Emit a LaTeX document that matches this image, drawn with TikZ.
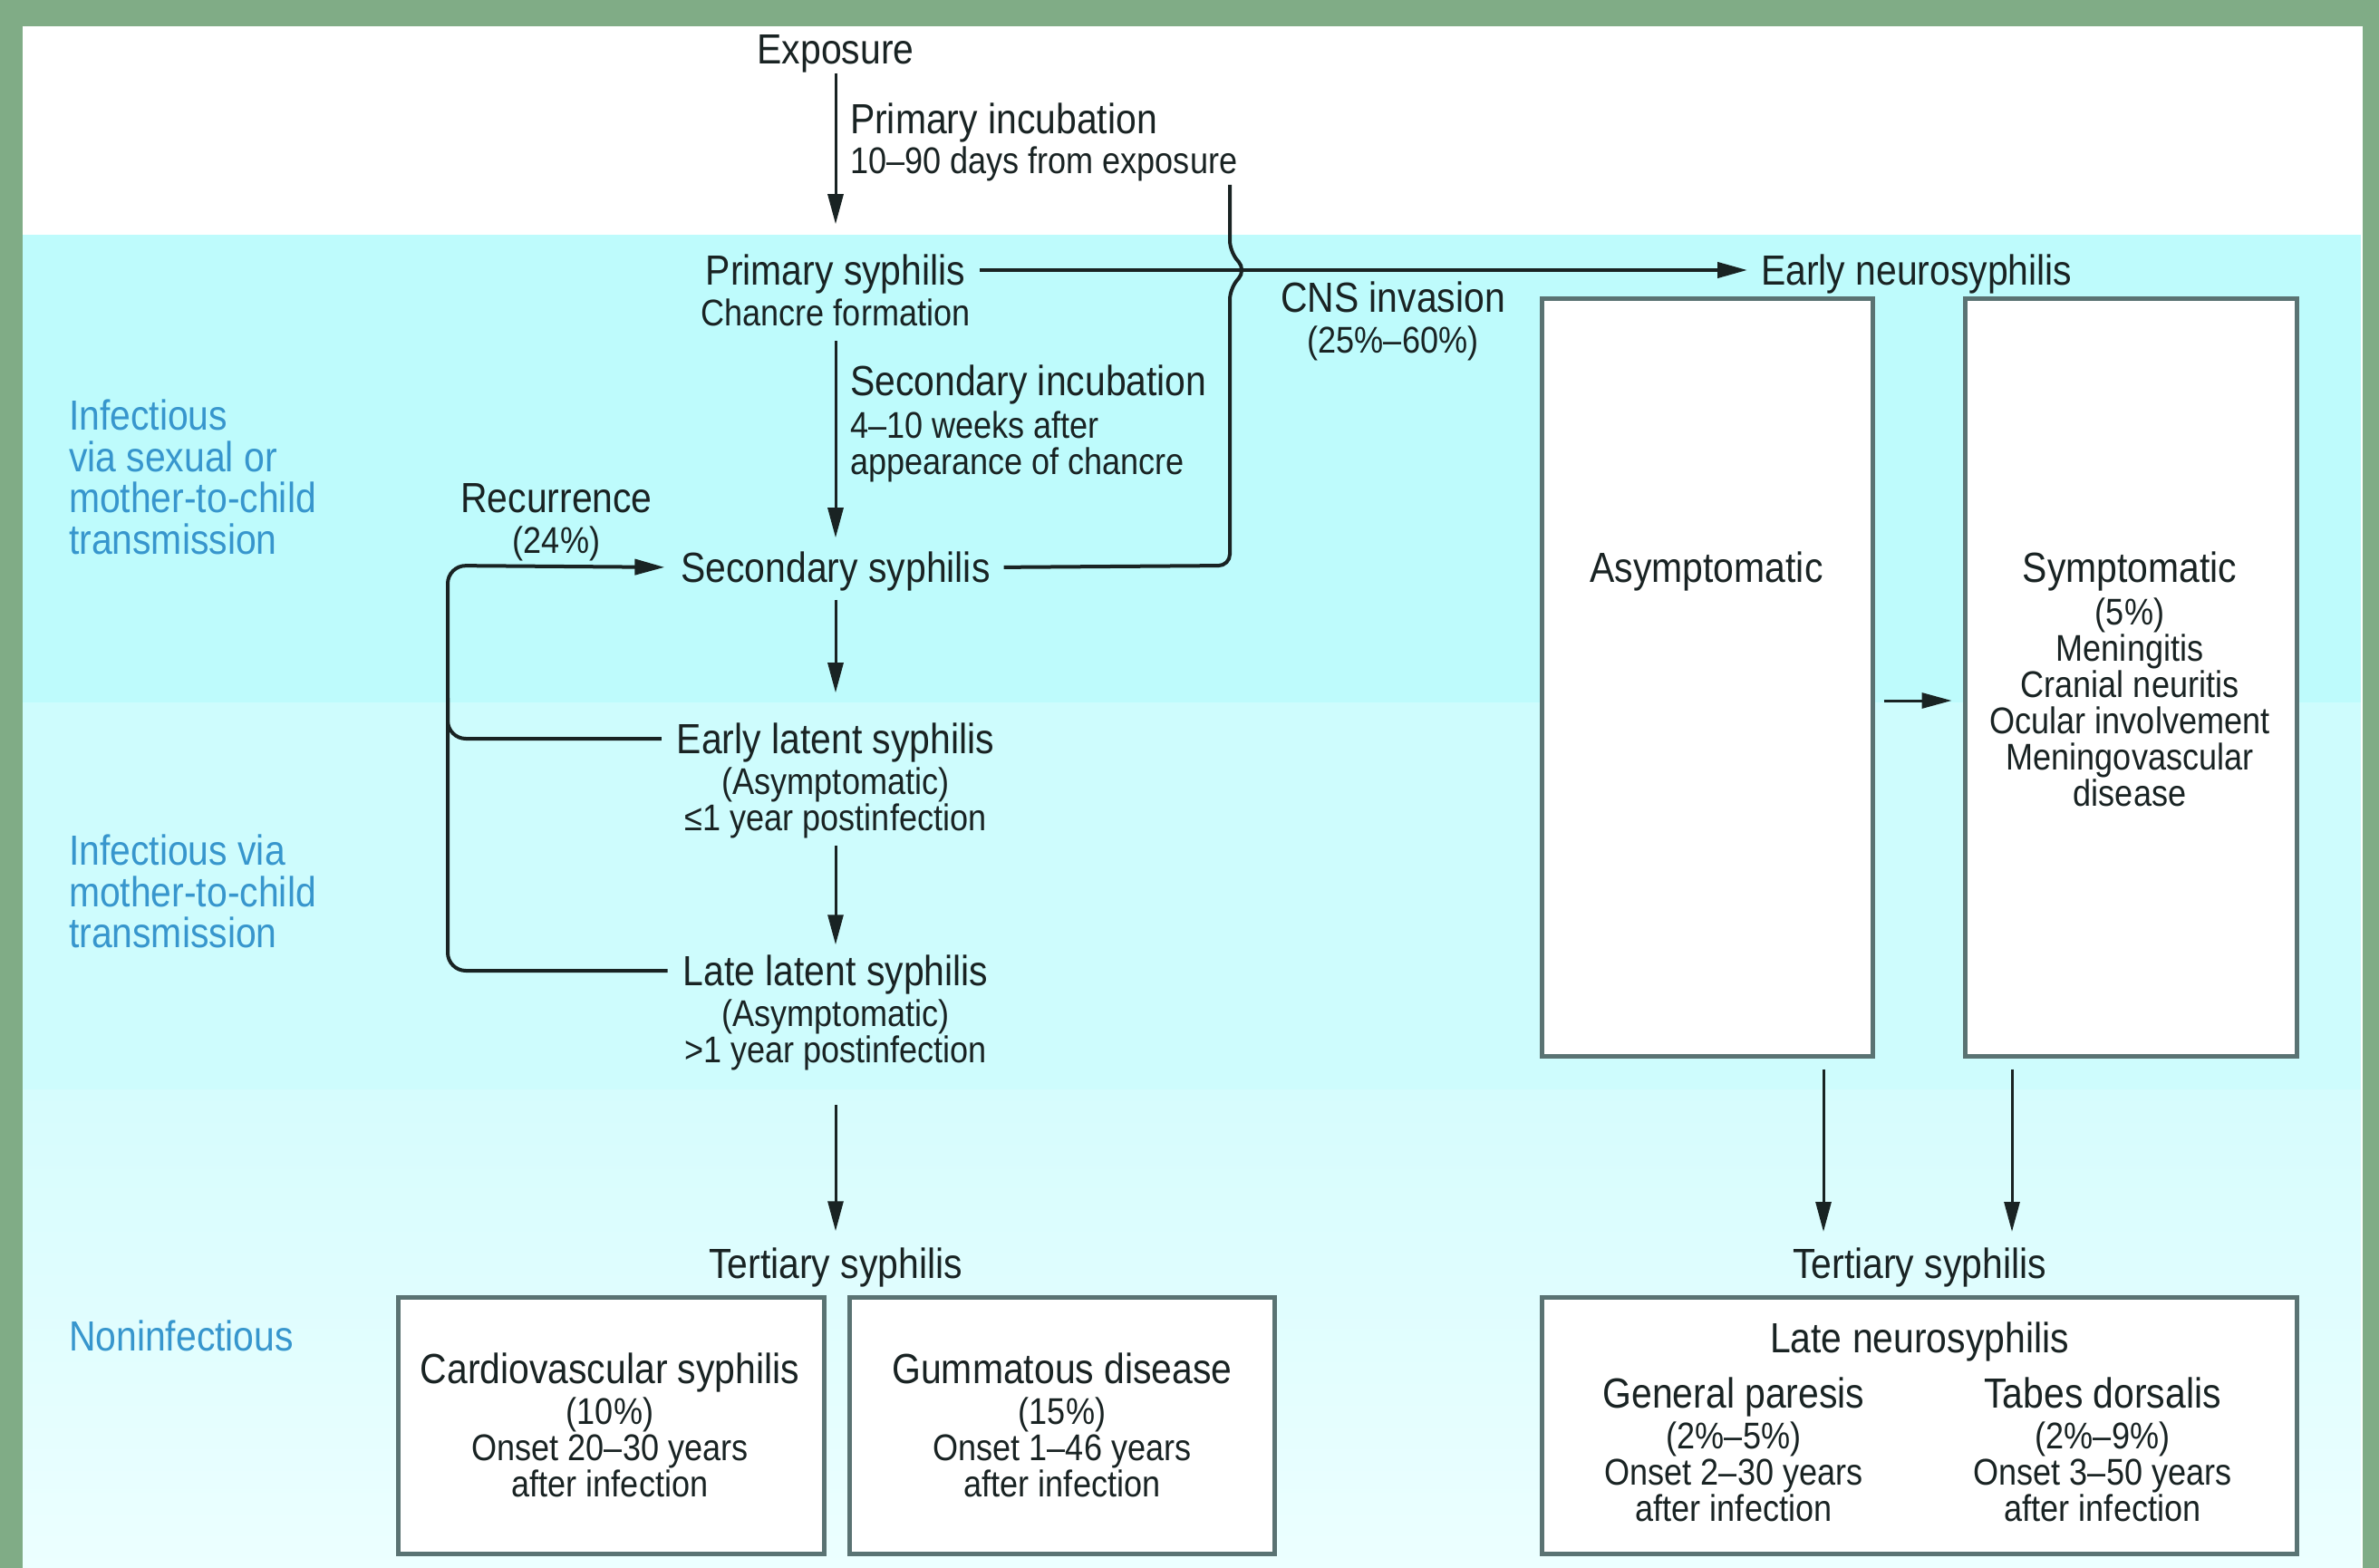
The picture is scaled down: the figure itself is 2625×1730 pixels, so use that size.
\documentclass[tikz,border=0pt]{standalone}
\usepackage{fontspec}
\setmainfont[FakeStretch=0.88]{Liberation Sans}
\usetikzlibrary{arrows.meta}

\definecolor{framegreen}{RGB}{128,172,134}
\definecolor{bandone}{RGB}{190,251,252}
\definecolor{bandtwo}{RGB}{206,252,253}
\definecolor{bandthreetop}{RGB}{214,252,253}
\definecolor{bandthreebot}{RGB}{236,255,255}
\definecolor{inktext}{RGB}{25,35,35}
\definecolor{zoneblue}{RGB}{55,150,205}
\definecolor{boxedge}{RGB}{90,115,115}

\newcommand{\bigtxt}{\fontsize{9.3}{9.4}\selectfont}
\newcommand{\smalltxt}{\fontsize{8.2}{8}\selectfont}
\newcommand{\zonetxt}{\fontsize{9.3}{9.1}\selectfont}

\begin{document}
\begin{tikzpicture}[x=0.2pt,y=0.2pt,yscale=-1,
	stage/.style={inner sep=0pt, font=\bigtxt, text=inktext, text height=6.7pt, text depth=0pt},
	note/.style={inner sep=0pt, font=\smalltxt, text=inktext, align=center, anchor=north},
	zone/.style={inner sep=0pt, font=\zonetxt, text=zoneblue, align=left, anchor=north west},
	panel/.style={draw=boxedge, line width=1pt, fill=white, inner sep=0pt},
	flow/.style={draw=inktext, line width=0.6pt, -{Triangle[length=6.6pt,width=3.4pt]}},
	link/.style={draw=inktext, line width=0.8pt}]
	\useasboundingbox (0,0) rectangle (2625,1730);
	
	%Shape: Background [frame]
	\fill [framegreen] (0,0) rectangle (2625,1730);
	\fill [white] (25,29) rectangle (2607,1730);
	%Shape: Bands
	\fill [bandone] (25,259) rectangle (2605,775);
	\fill [bandtwo] (25,775) rectangle (2605,1202);
	\shade [top color=bandthreetop, bottom color=bandthreebot] (25,1202) rectangle (2605,1730);
	
	%Shape: Rectangle [cardio]
	\draw (674,1572.5) node (cardio) [panel, minimum width=94pt, minimum height=56.6pt] {};
	%Shape: Rectangle [gumma]
	\draw (1171.5,1572.5) node (gumma) [panel, minimum width=93.8pt, minimum height=56.6pt] {};
	%Shape: Rectangle [asymptomatic]
	\draw (1883.5,747.5) node (asy) [panel, minimum width=73pt, minimum height=167pt] {};
	%Shape: Rectangle [symptomatic]
	\draw (2351,747.5) node (sym) [panel, minimum width=73.2pt, minimum height=167pt] {};
	%Shape: Rectangle [late neuro]
	\draw (2117.5,1572.5) node (lneuro) [panel, minimum width=166.6pt, minimum height=56.6pt] {};
	
	% Text Node
	\draw (75,440) node (zoneA) [zone] {Infectious\\via sexual or\\mother-to-child\\transmission};
	% Text Node
	\draw (75,920) node (zoneB) [zone] {Infectious via\\mother-to-child\\transmission};
	% Text Node
	\draw (75,1456) node (zoneC) [zone] {Noninfectious};
	
	% Text Node
	\draw (922,54) node (expo) [stage] {Exposure};
	% Text Node
	\draw (937,131) node (incA) [stage, anchor=west] {Primary incubation};
	% Text Node
	\draw (937,161) node (incAnote) [note, anchor=north west, align=left] {10–90 days from exposure};
	% Text Node
	\draw (922,298) node (prim) [stage] {Primary syphilis};
	% Text Node
	\draw (922,329) node (primnote) [note] {Chancre formation};
	% Text Node
	\draw (937,420) node (incB) [stage, anchor=west] {Secondary incubation};
	% Text Node
	\draw (937,453) node (incBnote) [note, anchor=north west, align=left] {4–10 weeks after\\appearance of chancre};
	% Text Node
	\draw (1537,328) node (cns) [stage] {CNS invasion};
	% Text Node
	\draw (1537,359) node (cnsnote) [note] {(25\%–60\%)};
	% Text Node
	\draw (1942,298) node (eneuro) [stage, anchor=west] {Early neurosyphilis};
	% Text Node
	\draw (614,549) node (recur) [stage] {Recurrence};
	% Text Node
	\draw (614,580) node (recurnote) [note] {(24\%)};
	% Text Node
	\draw (922,626) node (sec) [stage] {Secondary syphilis};
	% Text Node
	\draw (922,815) node (early) [stage] {Early latent syphilis};
	% Text Node
	\draw (922,846) node (earlynote) [note] {(Asymptomatic)\\≤1 year postinfection};
	% Text Node
	\draw (922,1071) node (late) [stage] {Late latent syphilis};
	% Text Node
	\draw (922,1102) node (latenote) [note] {(Asymptomatic)\\>1 year postinfection};
	% Text Node
	\draw (922,1394) node (tert) [stage] {Tertiary syphilis};
	% Text Node
	\draw (2118,1394) node (tertR) [stage] {Tertiary syphilis};
	
	% Text Node
	\draw (673,1510) node (cardiotitle) [stage] {Cardiovascular syphilis};
	% Text Node
	\draw (673,1541) node (cardionote) [note] {(10\%)\\Onset 20–30 years\\after infection};
	% Text Node
	\draw (1172,1510) node (gummatitle) [stage] {Gummatous disease};
	% Text Node
	\draw (1172,1541) node (gummanote) [note] {(15\%)\\Onset 1–46 years\\after infection};
	% Text Node
	\draw (1883,626) node (asytitle) [stage] {Asymptomatic};
	% Text Node
	\draw (2350,626) node (symtitle) [stage] {Symptomatic};
	% Text Node
	\draw (2350,659) node (symnote) [note] {(5\%)\\Meningitis\\Cranial neuritis\\Ocular involvement\\Meningovascular\\disease};
	% Text Node
	\draw (2118,1476) node (lneurotitle) [stage] {Late neurosyphilis};
	% Text Node
	\draw (1913,1537) node (paresis) [stage] {General paresis};
	% Text Node
	\draw (1913,1568) node (paresisnote) [note] {(2\%–5\%)\\Onset 2–30 years\\after infection};
	% Text Node
	\draw (2320,1537) node (tabes) [stage] {Tabes dorsalis};
	% Text Node
	\draw (2320,1568) node (tabesnote) [note] {(2\%–9\%)\\Onset 3–50 years\\after infection};
	
	\coordinate (cnstop) at (1357,204);
	\coordinate (asyout) at (2012,1359);
	\coordinate (symout) at (2220,1359);
	\coordinate (midrow) at (2100,773);
	
	%Straight Lines [main column]
	\draw [flow, shorten <=1.8pt, shorten >=6.6pt] (expo.south) -- (prim.north);
	\draw [flow, shorten <=3pt, shorten >=3pt] (primnote.south) -- (sec.north);
	\draw [flow, shorten <=3.6pt, shorten >=6.6pt] (sec.south) -- (early.north);
	\draw [flow, shorten <=1.4pt, shorten >=2.2pt] (earlynote.south) -- (late.north);
	\draw [flow, shorten <=7.4pt, shorten >=3.6pt] (latenote.south) -- (tert.north);
	%Straight Lines [CNS invasion]
	\draw [flow, link, shorten <=3pt, shorten >=2.8pt] (prim.east) -- (eneuro.west);
	\draw [link, rounded corners=2.5pt, shorten <=2.8pt] (sec.east) -- (1357,624) -- (1357,318) -- (1375,298) -- (1357,278) -- (cnstop);
	%Straight Lines [recurrence]
	\draw [flow, link, rounded corners=4pt, shorten <=3.2pt, shorten >=3.4pt] (late.west) -- (494,1071) -- (494,624) -- (sec.west);
	\draw [link, rounded corners=4pt, shorten <=3.2pt] (early.west) -- (494,815) -- (494,770);
	%Straight Lines [neurosyphilis]
	\draw [flow, shorten <=2pt, shorten >=2.4pt] (asy.east |- midrow) -- (sym.west |- midrow);
	\draw [flow, shorten <=2.4pt] (asy.south -| asyout) -- (asyout);
	\draw [flow, shorten <=2.4pt] (sym.south -| symout) -- (symout);
	
\end{tikzpicture}
\end{document}
